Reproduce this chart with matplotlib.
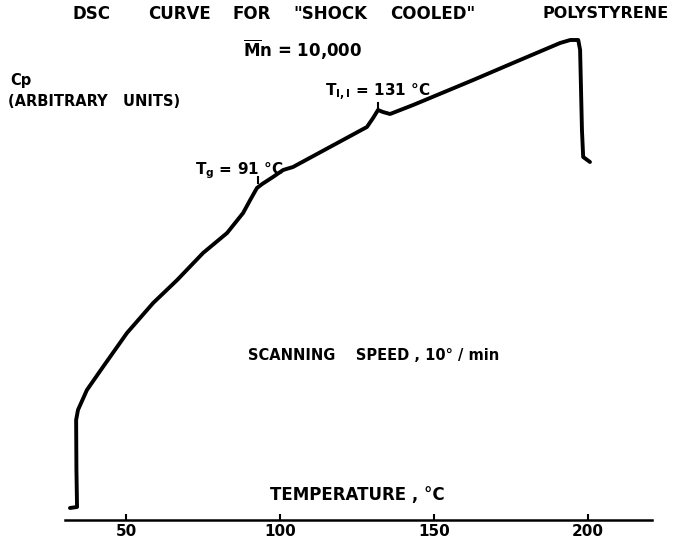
import matplotlib
matplotlib.use("Agg")
import matplotlib.pyplot as plt

# Temperature (°C) and Cp (arbitrary units)
temperature = [31.8, 34.1, 33.9, 33.8, 34.4, 37.3, 42.5, 50.3, 58.8, 66.6, 75.0,
               82.8, 88.0, 90.3, 92.5, 94.2, 97.7, 101.0, 104.2, 128.2, 130.2,
               131.8, 133.4, 135.7, 143.2, 162.7, 175.6, 190.9, 194.2, 196.8,
               197.4, 198.0, 198.4, 200.6]
cp = [2.4, 2.6, 10.0, 20.0, 22.0, 26.0, 30.6, 37.4, 43.4, 48.0, 53.4,
      57.4, 61.4, 64.0, 66.4, 67.2, 68.6, 70.0, 70.6, 78.6, 80.4,
      82.0, 81.6, 81.2, 83.0, 88.0, 91.4, 95.4, 96.0, 96.0,
      94.0, 78.0, 72.6, 71.6]

x_ticks = [50, 100, 150, 200]
x_ticklabels = ["50", "100", "150", "200"]
x_axis_range = [30.2, 220.8]
transitions = [(93.0, 67.4), (131.8, 82.2)]  # marked points on the curve

plt.rcParams['mathtext.fontset'] = 'dejavusans'
fig = plt.figure(figsize=(6.87, 5.43), dpi=100)
ax = fig.add_axes([0, 0, 1, 1])
ax.set_xlim(9.09, 232.1)
ax.set_ylim(-4.6, 104.0)

ax.plot(temperature, cp, color='black', lw=2.8, solid_joinstyle='round',
        solid_capstyle='round')

for t, c in transitions:
    ax.plot([t, t], [c, c + 1.2], color='black', lw=1.5)

for s in ['top', 'right', 'left']:
    ax.spines[s].set_visible(False)
ax.spines['bottom'].set_position(('data', 0))
ax.spines['bottom'].set_bounds(*x_axis_range)
ax.spines['bottom'].set_linewidth(1.8)
ax.set_yticks([])
ax.set_xticks(x_ticks)
ax.set_xticklabels(x_ticklabels, fontsize=11, fontweight='bold')
ax.tick_params(axis='x', direction='in', length=4, width=1.5, pad=3)

def put(xp, yp, s, size=12, ha='left'):
    x, y = xp / 687, 1 - yp / 543
    fig.text(x, y, s, fontsize=size, fontweight='bold', ha=ha, va='center')

put(73, 14, 'DSC')
put(148, 14, 'CURVE')
put(232, 14, 'FOR')
put(293, 14, '"SHOCK')
put(390, 14, 'COOLED"')
put(543, 14, 'POLYSTYRENE', size=11.5)
put(243, 50, r'$\mathbf{\overline{M}n}$ = 10,000', size=12)
put(10, 81, 'Cp', size=10.5)
put(8, 102, '(ARBITRARY   UNITS)', size=10.5)
put(325, 92, r'$\mathbf{T_{I,I}}$ = 131 °C', size=11)
put(195, 171, r'$\mathbf{T_{g}}$ = 91 °C', size=11)
put(248, 355, 'SCANNING    SPEED , 10° / min', size=10.5)
put(270, 495, 'TEMPERATURE , °C', size=12)

fig.savefig('out.png', dpi=100)
